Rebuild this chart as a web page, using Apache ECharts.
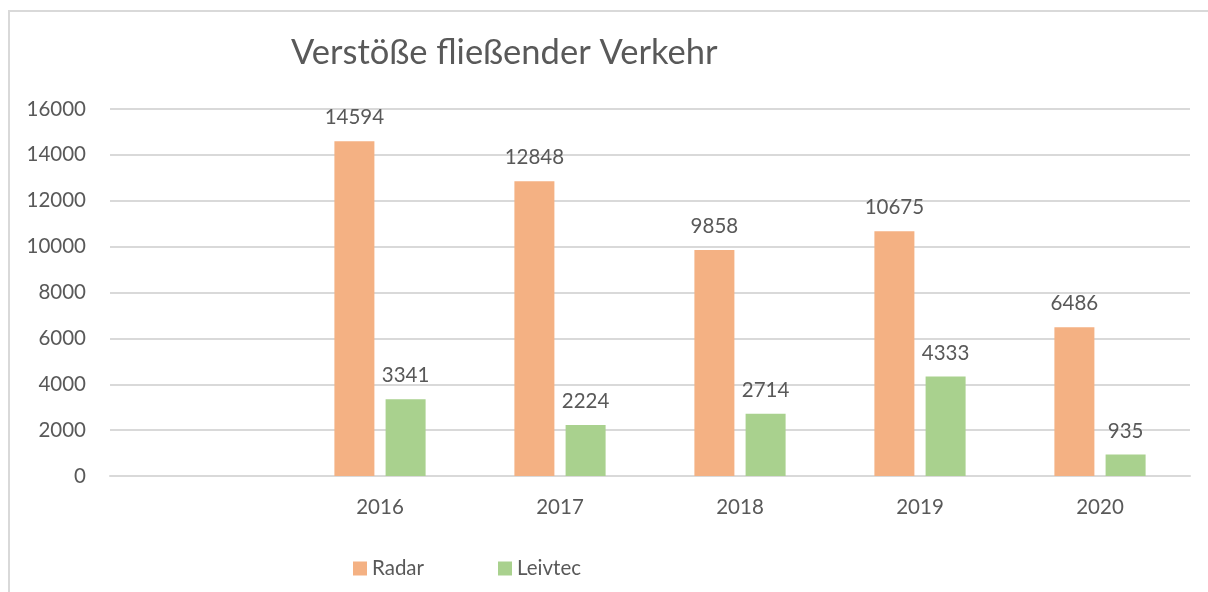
<!DOCTYPE html>
<html>
<head>
<meta charset="utf-8">
<script src="https://cdn.jsdelivr.net/npm/echarts@6/dist/echarts.min.js"></script>
<style>
  html, body { margin: 0; padding: 0; background: #fff; }
  #chart { width: 1208px; height: 592px; }
</style>
</head>
<body>
<div id="chart"></div>
<script>
var years = ['', '2016', '2017', '2018', '2019', '2020'];
var radar = [null, 14594, 12848, 9858, 10675, 6486];
var leivtec = [null, 3341, 2224, 2714, 4333, 935];

var textColor = '#595959';
var fontName = 'Lato';

const myChart = echarts.init(document.getElementById('chart'));

var labelStyle = {
    show: true,
    position: 'top',
    distance: 13,
    color: textColor,
    fontFamily: fontName,
    fontSize: 20.5
};

const option = {
    backgroundColor: '#fff',
    animation: false,
    title: {
        text: 'Verstöße fließender Verkehr',
        left: 286,
        top: 30,
        textStyle: {
            color: textColor,
            fontFamily: fontName,
            fontSize: 34.5,
            fontWeight: 'normal'
        }
    },
    graphic: [{
        type: 'rect',
        shape: { x: 9, y: 11, width: 1400, height: 800 },
        style: { fill: 'none', stroke: '#d9d9d9', lineWidth: 2 },
        silent: true
    }],
    legend: {
        data: ['Radar', 'Leivtec'],
        left: 348,
        top: 553,
        icon: 'rect',
        itemWidth: 14,
        itemHeight: 14,
        itemGap: 74,
        textStyle: { color: textColor, fontFamily: fontName, fontSize: 20.5 }
    },
    grid: {
        left: 110,
        right: 18,
        top: 109,
        bottom: 116
    },
    xAxis: {
        type: 'category',
        data: years,
        axisLine: { lineStyle: { color: '#d9d9d9', width: 2 } },
        axisTick: { show: false },
        axisLabel: { color: textColor, fontFamily: fontName, fontSize: 20.5, margin: 21 }
    },
    yAxis: {
        type: 'value',
        min: 0,
        max: 16000,
        interval: 2000,
        axisLine: { show: false },
        axisTick: { show: false },
        axisLabel: {
            color: textColor,
            fontFamily: fontName,
            fontSize: 20.5,
            margin: 24,
            formatter: function (v) { return String(v); }
        },
        splitLine: { lineStyle: { color: '#d9d9d9', width: 2 } }
    },
    series: [
        {
            name: 'Radar',
            type: 'bar',
            data: radar,
            barWidth: 40,
            barGap: '28%',
            itemStyle: { color: '#f4b183' },
            label: labelStyle
        },
        {
            name: 'Leivtec',
            type: 'bar',
            data: leivtec,
            barWidth: 40,
            itemStyle: { color: '#a9d18e' },
            label: labelStyle
        }
    ]
};
myChart.setOption(option);
</script>
</body>
</html>
